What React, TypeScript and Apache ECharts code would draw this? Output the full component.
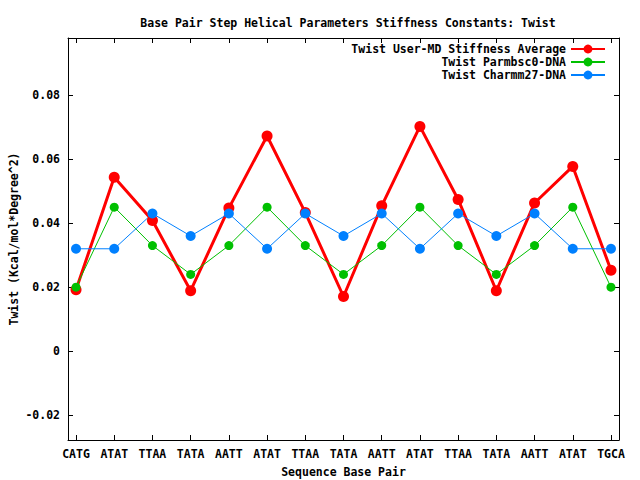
import React, { useEffect, useRef } from "react";
import * as echarts from "echarts";

const categories = ["CATG", "ATAT", "TTAA", "TATA", "AATT", "ATAT", "TTAA", "TATA", "AATT", "ATAT", "TTAA", "TATA", "AATT", "ATAT", "TGCA"];
const userMD = [0.0192, 0.0543, 0.0408, 0.0189, 0.0447, 0.0672, 0.0433, 0.0171, 0.0454, 0.0702, 0.0474, 0.0189, 0.0463, 0.0577, 0.0253];
const parmbsc0 = [0.020, 0.045, 0.033, 0.024, 0.033, 0.045, 0.033, 0.024, 0.033, 0.045, 0.033, 0.024, 0.033, 0.045, 0.020];
const charmm27 = [0.032, 0.032, 0.043, 0.036, 0.043, 0.032, 0.043, 0.036, 0.043, 0.032, 0.043, 0.036, 0.043, 0.032, 0.032];
const yTicks = [-0.02, 0, 0.02, 0.04, 0.06, 0.08];
const seriesNames = ["Twist User-MD Stiffness Average", "Twist Parmbsc0-DNA", "Twist Charmm27-DNA"];
const colors = ["#ff0000", "#00c000", "#0080ff"];

const FONT = "DejaVu Sans Mono";
const FS = 11.5;

export default function App() {
  const ref = useRef<HTMLDivElement>(null);
  useEffect(() => {
    document.body.style.margin = "0";
    const chart = echarts.init(ref.current!, null, { renderer: "svg" });
    const xIdx = categories.map((_, i) => i);
    const txt = { fontFamily: FONT, fontSize: FS, fontWeight: "bold" as const, color: "#000" };
    const mk = (vals: number[]) => vals.map((v, i) => [i, v]);
    const lineAxis = { show: true, onZero: false, lineStyle: { color: "#000", width: 1 } };
    const tick = (vals: number[]) => ({ show: true, inside: true, length: 5, customValues: vals, lineStyle: { color: "#000", width: 1 } });
    const legendBase = (i: number) => ({
      data: [seriesNames[i]],
      right: 34,
      top: 43 + i * 13,
      orient: "vertical" as const,
      align: "right" as const,
      itemWidth: 34,
      itemHeight: 11,
      textStyle: { ...txt },
      padding: 0,
    });
    chart.setOption({
      animation: false,
      backgroundColor: "#fff",
      textStyle: { fontFamily: FONT },
      title: {
        text: "Base Pair Step Helical Parameters Stiffness Constants: Twist",
        left: 343,
        top: 12,
        textAlign: "center",
        textStyle: { ...txt },
      },
      legend: [legendBase(0), legendBase(1), legendBase(2)],
      grid: { left: 68, right: 21, top: 38, bottom: 40, containLabel: false, outerBoundsMode: "none" },
      xAxis: [
        {
          type: "value",
          min: -0.21,
          max: 14.21,
          position: "bottom",
          axisLine: lineAxis,
          splitLine: { show: false },
          axisTick: tick(xIdx),
          axisLabel: {
            customValues: xIdx,
            formatter: (v: number) => categories[Math.round(v)] ?? "",
            margin: 8,
            ...txt,
          },
          name: "Sequence Base Pair",
          nameLocation: "middle",
          nameGap: 26,
          nameMoveOverlap: false,
          nameTextStyle: { ...txt },
        },
        {
          type: "value",
          min: -0.21,
          max: 14.21,
          position: "top",
          axisLine: lineAxis,
          splitLine: { show: false },
          axisTick: tick(xIdx),
          axisLabel: { show: false },
        },
      ],
      yAxis: [
        {
          type: "value",
          min: -0.0277,
          max: 0.0978,
          position: "left",
          axisLine: lineAxis,
          splitLine: { show: false },
          axisTick: tick(yTicks),
          axisLabel: {
            customValues: yTicks,
            formatter: (v: number) => (Math.abs(v) < 1e-9 ? "0" : v.toFixed(2)),
            margin: 8,
            ...txt,
          },
          name: "Twist (Kcal/mol*Degree^2)",
          nameLocation: "middle",
          nameGap: 48,
          nameMoveOverlap: false,
          nameTextStyle: { ...txt },
        },
        {
          type: "value",
          min: -0.0277,
          max: 0.0978,
          position: "right",
          axisLine: lineAxis,
          splitLine: { show: false },
          axisTick: tick(yTicks),
          axisLabel: { show: false },
        },
      ],
      series: [
        {
          name: seriesNames[0],
          type: "line",
          data: mk(userMD),
          symbol: "circle",
          symbolSize: 11,
          lineStyle: { color: colors[0], width: 3 },
          itemStyle: { color: colors[0] },
        },
        {
          name: seriesNames[1],
          type: "line",
          data: mk(parmbsc0),
          symbol: "circle",
          symbolSize: 9,
          lineStyle: { color: colors[1], width: 1 },
          itemStyle: { color: colors[1] },
        },
        {
          name: seriesNames[2],
          type: "line",
          data: mk(charmm27),
          symbol: "circle",
          symbolSize: 10,
          lineStyle: { color: colors[2], width: 1 },
          itemStyle: { color: colors[2] },
        },
      ],
    });
    return () => chart.dispose();
  }, []);
  return <div ref={ref} style={{ width: 640, height: 480 }} />;
}
